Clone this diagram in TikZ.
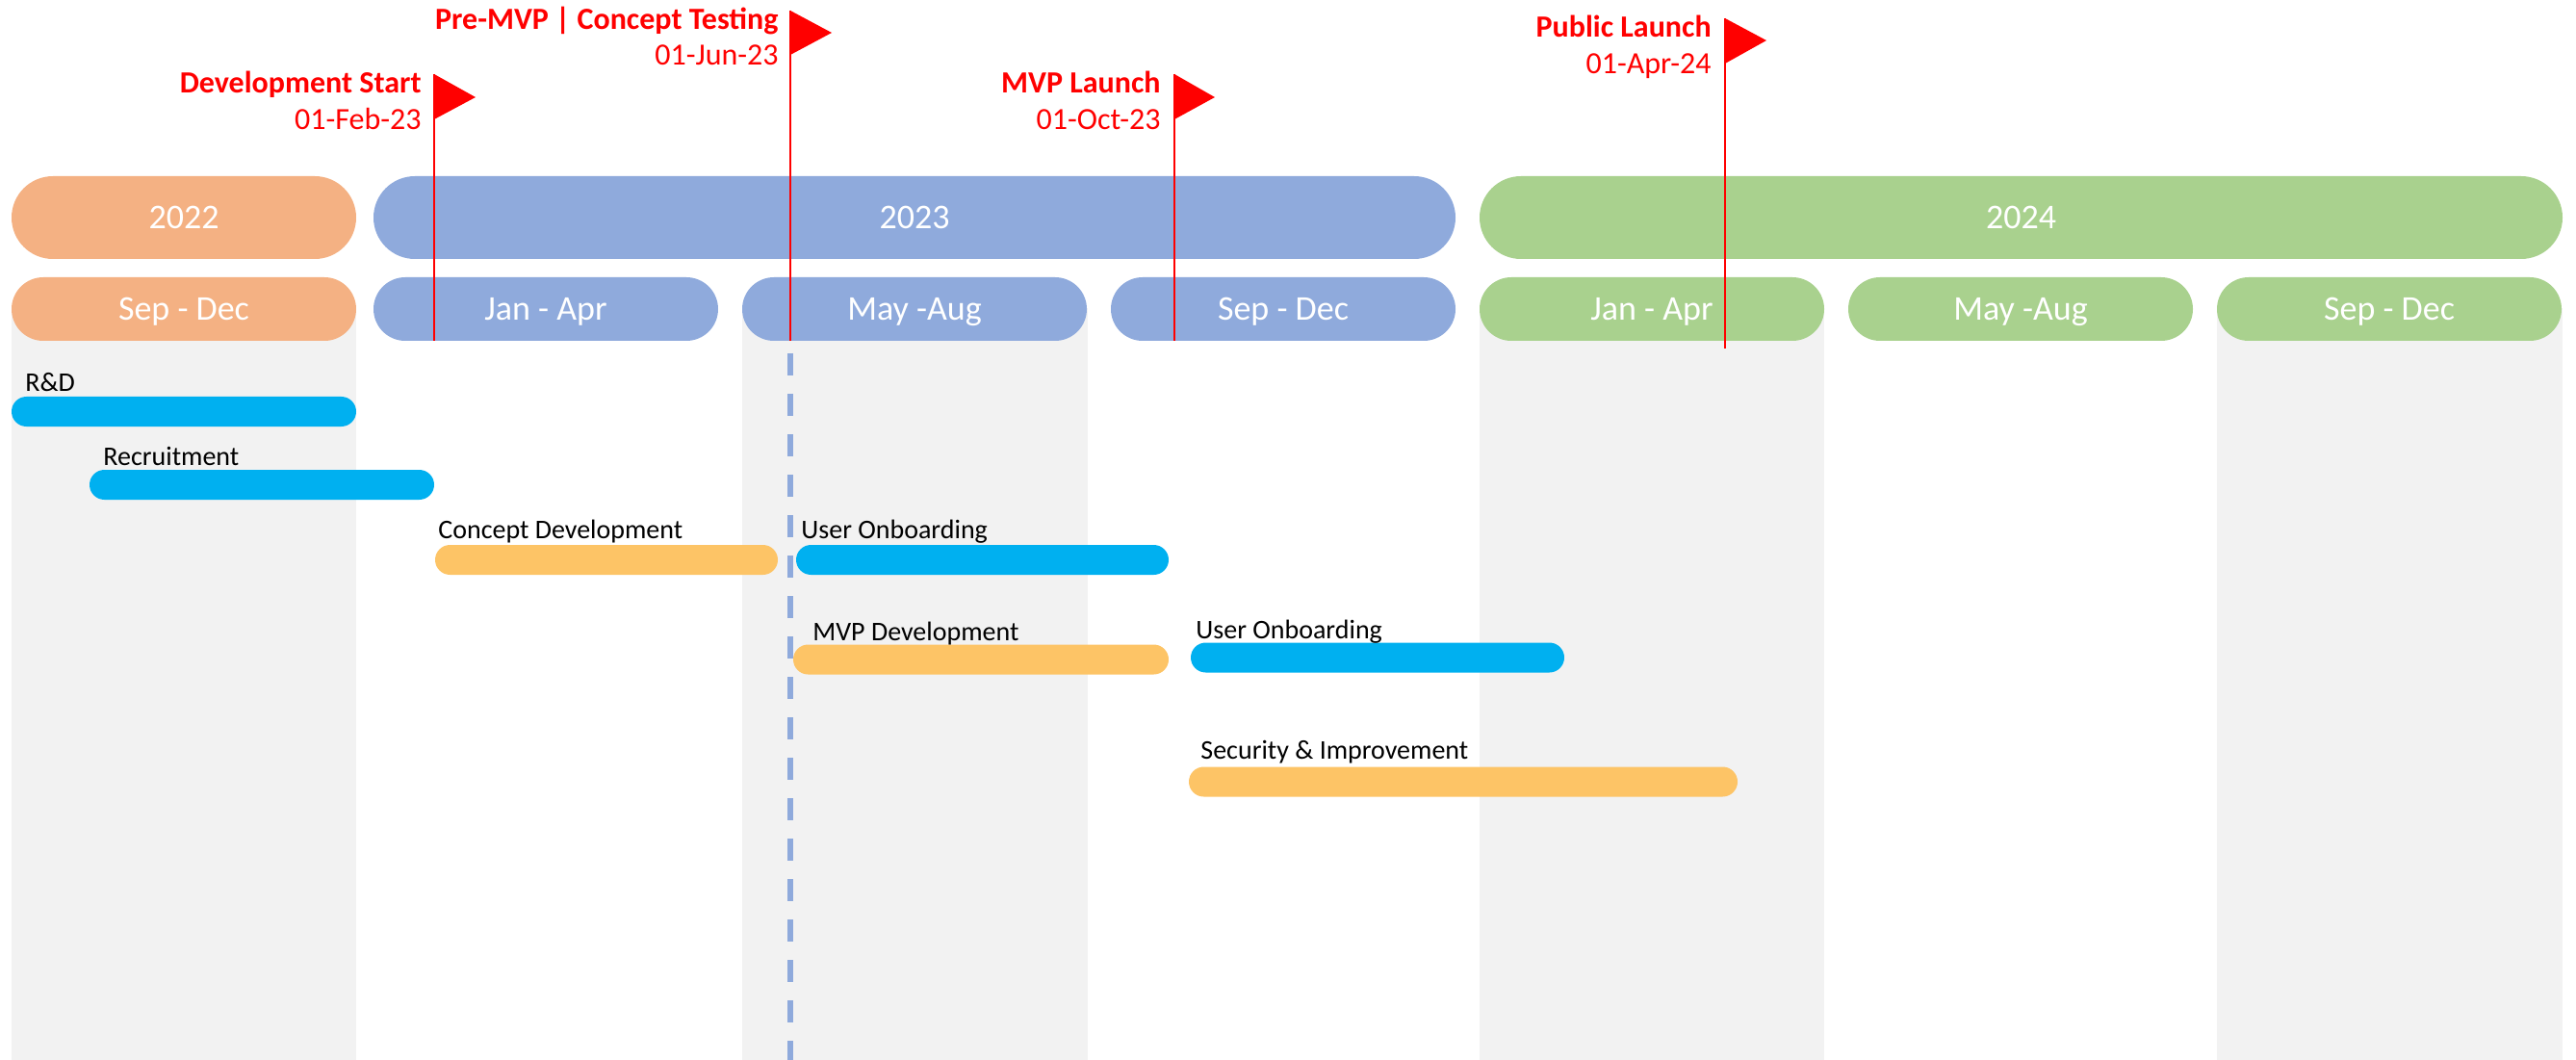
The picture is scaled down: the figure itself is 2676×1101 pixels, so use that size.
\documentclass[tikz,border=0pt]{standalone}
\usepackage{fontspec}
\setmainfont{Carlito}
\usetikzlibrary{calc}

\definecolor{peach}{HTML}{F4B183}
\definecolor{periwinkle}{HTML}{8FAADC}
\definecolor{sage}{HTML}{A9D18E}
\definecolor{skyblue}{HTML}{00B0F0}
\definecolor{marigold}{HTML}{FDC466}
\definecolor{columngray}{HTML}{F2F2F2}

\tikzset{
  yearbar/.style={rounded corners=21.5pt, minimum height=43pt, inner sep=0pt,
    text=white, text height=11.6pt, text depth=0pt, font=\fontsize{18}{21}\selectfont},
  termbar/.style={rounded corners=16.5pt, minimum height=33pt, minimum width=179pt, inner sep=0pt,
    text=white, text height=11.6pt, text depth=0pt, font=\fontsize{18}{21}\selectfont},
  taskbar/.style={rounded corners=7.75pt, minimum height=15.5pt, inner sep=0pt},
  tasklabel/.style={anchor=base west, inner sep=0pt, font=\fontsize{14}{17}\selectfont},
  milestone/.style={anchor=base east, inner sep=0pt, text=red, font=\bfseries\fontsize{16}{19}\selectfont},
  msdate/.style={anchor=base east, inner sep=0pt, text=red, font=\fontsize{16}{19}\selectfont},
  pole/.style={red, line width=1pt},
  pennant/.style={fill=red},
  launchline/.style={periwinkle, line width=2.7pt, dash pattern=on 11.5pt off 9.5pt},
}

\begin{document}
\begin{tikzpicture}[x=0.5pt, y=-0.5pt]
  \useasboundingbox (0, 0) rectangle (2676, 1101);
  % shaded columns
  \fill[columngray] (12, 320) rectangle (370, 1101);
  \fill[columngray] (771, 320) rectangle (1130, 1101);
  \fill[columngray] (1537, 320) rectangle (1895, 1101);
  \fill[columngray] (2303, 320) rectangle (2662, 1101);
  % years
  \node (y22) [yearbar, fill=peach, minimum width=179pt] at (191, 226) {2022};
  \node (y23) [yearbar, fill=periwinkle, minimum width=562pt] at (950, 226) {2023};
  \node (y24) [yearbar, fill=sage, minimum width=562.5pt] at (2099.5, 226) {2024};
  % terms
  \node (t1) [termbar, fill=peach] at (191, 321) {Sep - Dec};
  \node (t2) [termbar, fill=periwinkle] at (567, 321) {Jan - Apr};
  \node (t3) [termbar, fill=periwinkle] at (950, 321) {May -Aug};
  \node (t4) [termbar, fill=periwinkle] at (1333, 321) {Sep - Dec};
  \node (t5) [termbar, fill=sage] at (1716, 321) {Jan - Apr};
  \node (t6) [termbar, fill=sage] at (2099, 321) {May -Aug};
  \node (t7) [termbar, fill=sage] at (2482, 321) {Sep - Dec};
  % tasks
  \node (rd) [taskbar, fill=skyblue, minimum width=179pt] at (191, 427.5) {};
  \node (recruit) [taskbar, fill=skyblue, minimum width=179pt] at (272, 503.5) {};
  \node (concept) [taskbar, fill=marigold, minimum width=178pt] at (630, 581.5) {};
  \node (onboardA) [taskbar, fill=skyblue, minimum width=193.5pt] at (1020.5, 581.5) {};
  \node (mvpdev) [taskbar, fill=marigold, minimum width=195pt] at (1019, 685) {};
  \node (onboardB) [taskbar, fill=skyblue, minimum width=194pt] at (1431, 683) {};
  \node (security) [taskbar, fill=marigold, minimum width=285pt] at (1520, 812) {};
  \node (rdtxt) [tasklabel] at (26, 407) {R\&D};
  \node (recruittxt) [tasklabel] at (107, 483) {Recruitment};
  \node (concepttxt) [tasklabel] at (455, 559) {Concept Development};
  \node (onboardAtxt) [tasklabel] at (832, 559) {User Onboarding};
  \node (mvpdevtxt) [tasklabel] at (844, 665) {MVP Development};
  \node (onboardBtxt) [tasklabel] at (1242, 663) {User Onboarding};
  \node (securitytxt) [tasklabel] at (1247, 788) {Security \& Improvement};
  % milestones
  \coordinate (devtop) at (451, 77);
  \coordinate (devfoot) at (451, 354);
  \coordinate (pretop) at (821, 11);
  \coordinate (prefoot) at (821, 354);
  \coordinate (dashtop) at (821, 367);
  \coordinate (dashfoot) at (821, 1101);
  \coordinate (mvptop) at (1220, 77);
  \coordinate (mvpfoot) at (1220, 354);
  \coordinate (pubtop) at (1792, 19);
  \coordinate (pubfoot) at (1792, 362);
  \draw[launchline] (dashtop) -- (dashfoot);
  \draw[pole] (devtop) -- (devfoot);
  \draw[pole] (pretop) -- (prefoot);
  \draw[pole] (mvptop) -- (mvpfoot);
  \draw[pole] (pubtop) -- (pubfoot);
  \fill[pennant] (devtop) -- ++(43, 24) -- ++(-43, 23) -- cycle;
  \fill[pennant] (pretop) -- ++(43, 23) -- ++(-43, 23) -- cycle;
  \fill[pennant] (mvptop) -- ++(42, 24) -- ++(-42, 23) -- cycle;
  \fill[pennant] (pubtop) -- ++(43, 23) -- ++(-43, 24) -- cycle;
  \node (devname) [milestone] at (438, 97) {Development Start};
  \node (devdate) [msdate] at (438, 135) {01-Feb-23};
  \node (prename) [milestone] at (809, 31) {Pre-MVP | Concept Testing};
  \node (predate) [msdate] at (809, 68) {01-Jun-23};
  \node (mvpname) [milestone] at (1206, 97) {MVP Launch};
  \node (mvpdate) [msdate] at (1206, 135) {01-Oct-23};
  \node (pubname) [milestone] at (1778, 39) {Public Launch};
  \node (pubdate) [msdate] at (1778, 77) {01-Apr-24};
\end{tikzpicture}
\end{document}
